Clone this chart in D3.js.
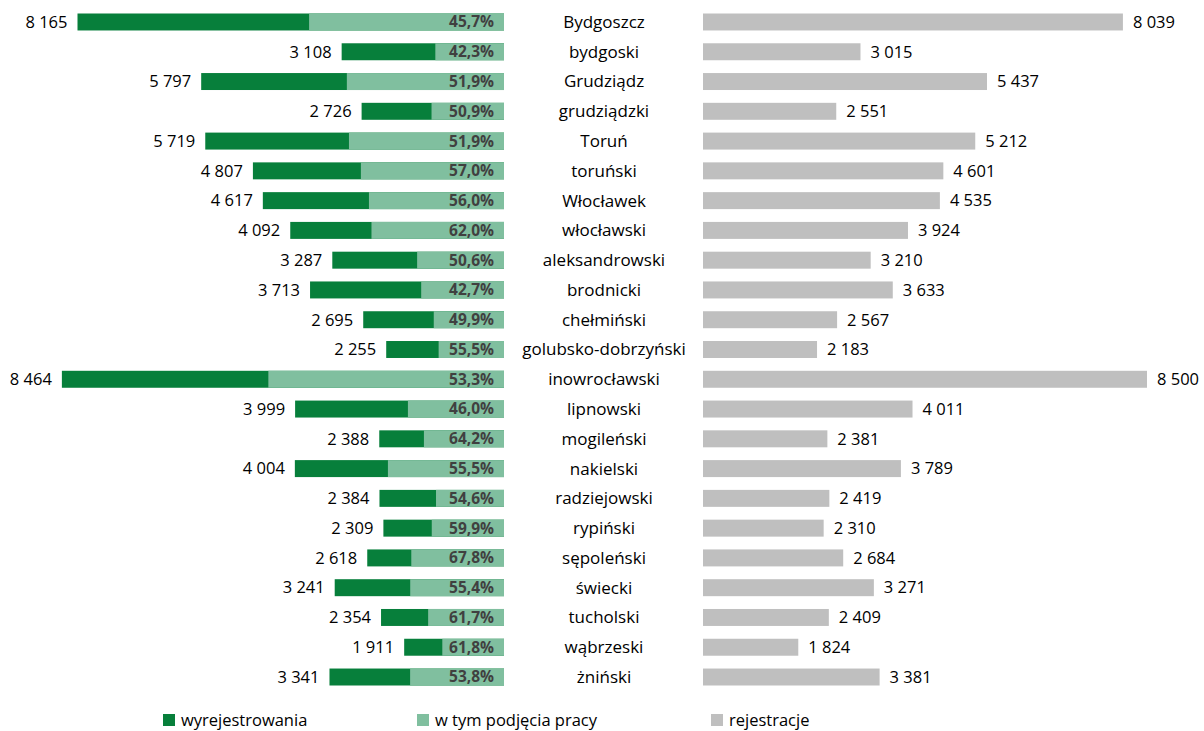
<!DOCTYPE html>
<html><head><meta charset="utf-8">
<script src="https://cdn.jsdelivr.net/npm/d3@7"></script>
<style>body{margin:0;background:#fff}svg{display:block}text{font-family:"Open Sans",sans-serif}</style>
</head><body>
<svg id="c" width="1204" height="731"></svg>
<script>
const categories = ["Bydgoszcz","bydgoski","Grudziądz","grudziądzki","Toruń","toruński","Włocławek","włocławski","aleksandrowski","brodnicki","chełmiński","golubsko-dobrzyński","inowrocławski","lipnowski","mogileński","nakielski","radziejowski","rypiński","sępoleński","świecki","tucholski","wąbrzeski","żniński"];
const wyrejestrowania = [8165,3108,5797,2726,5719,4807,4617,4092,3287,3713,2695,2255,8464,3999,2388,4004,2384,2309,2618,3241,2354,1911,3341];
const podjeciaPct = [45.7,42.3,51.9,50.9,51.9,57.0,56.0,62.0,50.6,42.7,49.9,55.5,53.3,46.0,64.2,55.5,54.6,59.9,67.8,55.4,61.7,61.8,53.8];
const rejestracje = [8039,3015,5437,2551,5212,4601,4535,3924,3210,3633,2567,2183,8500,4011,2381,3789,2419,2310,2684,3271,2409,1824,3381];
const legendLabels = ["wyrejestrowania","w tym podjęcia pracy","rejestracje"];

const C_DARK = "#077F3B", C_LIGHT = "#80BF9F", C_GREY = "#BFBFBF";
const svg = d3.select("#c");
const leftX0 = 504, rightX0 = 703, catX = 604;
const x = d3.scaleLinear().domain([0, 8500]).range([0, 444]);
const y = d3.scaleBand().domain(categories).range([7.1, 691.9]).paddingInner(0.43).paddingOuter(0.215);
const fmt = v => d3.format(",")(v).replace(/,/g, " ");
const fmtPct = v => v.toFixed(1).replace(".", ",") + "%";

const rows = categories.map((c, i) => ({c, w: wyrejestrowania[i], p: podjeciaPct[i], r: rejestracje[i]}));
const g = svg.append("g");

g.selectAll("rect.w").data(rows).join("rect")
  .attr("x", d => leftX0 - x(d.w)).attr("y", d => y(d.c))
  .attr("width", d => x(d.w)).attr("height", y.bandwidth()).attr("fill", C_DARK);
g.selectAll("rect.p").data(rows).join("rect")
  .attr("x", d => leftX0 - x(d.w * d.p / 100)).attr("y", d => y(d.c))
  .attr("width", d => x(d.w * d.p / 100)).attr("height", y.bandwidth()).attr("fill", C_LIGHT);
g.selectAll("rect.r").data(rows).join("rect")
  .attr("x", rightX0).attr("y", d => y(d.c))
  .attr("width", d => x(d.r)).attr("height", y.bandwidth()).attr("fill", C_GREY);

const cy = d => y(d.c) + y.bandwidth() / 2;
g.selectAll("text.wl").data(rows).join("text")
  .attr("x", d => leftX0 - x(d.w) - 10).attr("y", cy).attr("dy", "0.35em")
  .attr("text-anchor", "end").attr("font-size", 16.5).attr("fill", "#000").text(d => fmt(d.w));
g.selectAll("text.pl").data(rows).join("text")
  .attr("x", leftX0 - 10).attr("y", cy).attr("dy", "0.35em")
  .attr("text-anchor", "end").attr("font-size", 15.5).attr("font-weight", "bold").attr("fill", "#404040").text(d => fmtPct(d.p));
g.selectAll("text.cl").data(rows).join("text")
  .attr("x", catX).attr("y", cy).attr("dy", "0.35em")
  .attr("text-anchor", "middle").attr("font-size", 17).attr("fill", "#000").text(d => d.c);
g.selectAll("text.rl").data(rows).join("text")
  .attr("x", d => rightX0 + x(d.r) + 10).attr("y", cy).attr("dy", "0.35em")
  .attr("text-anchor", "start").attr("font-size", 16.5).attr("fill", "#000").text(d => fmt(d.r));

const legX = [163, 417, 711], legC = [C_DARK, C_LIGHT, C_GREY];
const lg = svg.append("g");
legendLabels.forEach((t, i) => {
  lg.append("rect").attr("x", legX[i]).attr("y", 714).attr("width", 12).attr("height", 12).attr("fill", legC[i]);
  lg.append("text").attr("x", legX[i] + 18).attr("y", 726).attr("font-size", 16.5).attr("fill", "#000").text(t);
});
</script>
</body></html>
